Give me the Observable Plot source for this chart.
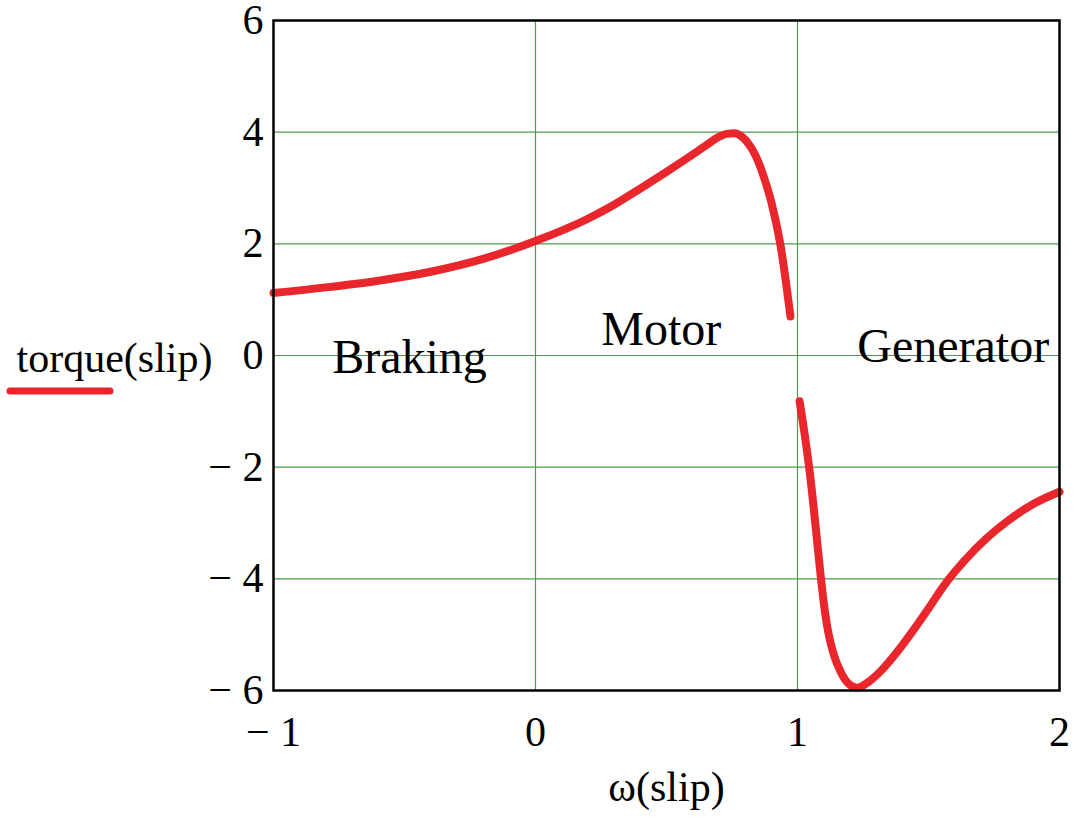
<!DOCTYPE html>
<html>
<head>
<meta charset="utf-8">
<script src="https://cdn.jsdelivr.net/npm/d3@7"></script>
<script src="https://cdn.jsdelivr.net/npm/@observablehq/plot@0.6"></script>
<style>
  html, body { margin: 0; padding: 0; background: #fff; }
  #chart { position: relative; width: 1081px; height: 823px; }
  #chart svg text { font-family: 'Liberation Serif', 'Times New Roman', serif; }
</style>
</head>
<body>
<div id="chart"></div>
<script>
// Motoring / braking branch (omega = 1 - slip)
const omegaA  = [-1, -0.8, -0.6, -0.4, -0.2, 0, 0.2, 0.3, 0.4, 0.5, 0.6, 0.65, 0.69, 0.73, 0.76, 0.79, 0.815, 0.84, 0.87, 0.9, 0.935, 0.973];
const torqueA = [1.12, 1.22, 1.34, 1.50, 1.73, 2.05, 2.45, 2.70, 2.99, 3.29, 3.60, 3.76, 3.89, 3.97, 3.98, 3.91, 3.78, 3.58, 3.22, 2.75, 1.98, 0.70];
// Generator branch
const omegaB  = [1.008, 1.03, 1.05, 1.07, 1.09, 1.105, 1.12, 1.14, 1.165, 1.195, 1.228, 1.27, 1.316, 1.38, 1.445, 1.5, 1.559, 1.64, 1.72, 1.8, 1.9, 2.0];
const torqueB = [-0.82, -1.50, -2.22, -3.10, -4.02, -4.60, -5.02, -5.38, -5.67, -5.88, -5.95, -5.85, -5.66, -5.31, -4.90, -4.53, -4.12, -3.66, -3.28, -2.97, -2.66, -2.44];

const xTicks = [-1, 0, 1, 2];
const yTicks = [-6, -4, -2, 0, 2, 4, 6];
const xGrid = [0, 1];
const yGrid = [-4, -2, 0, 2, 4];

const regionNames = ["Braking", "Motor", "Generator"];
const regionX = [-0.776, 0.251, 1.228];
const regionY = [-0.32, 0.196, -0.125];

const xLabel = "ω(slip)";
const yLabel = "torque(slip)";

const segA = omegaA.map((w, i) => ({w, t: torqueA[i]}));
const segB = omegaB.map((w, i) => ({w, t: torqueB[i]}));
const regions = regionNames.map((name, i) => ({name, x: regionX[i], y: regionY[i]}));

const fmt = d => d < 0 ? "− " + Math.abs(d) : String(d);
const green = "#4f9a52";
const red = "#e8262b";
const serif = "'Liberation Serif', 'Times New Roman', serif";

const plot = Plot.plot({
  width: 1081,
  height: 823,
  marginLeft: 273,
  marginRight: 22,
  marginTop: 20,
  marginBottom: 133,
  style: {fontFamily: serif, fontSize: "42px", color: "black", background: "white", overflow: "visible"},
  x: {domain: [-1, 2]},
  y: {domain: [-6, 6]},
  marks: [
    Plot.gridX(xGrid, {stroke: green, strokeOpacity: 1, strokeWidth: 1.2}),
    Plot.gridY(yGrid, {stroke: green, strokeOpacity: 1, strokeWidth: 1.2}),
    Plot.text(regions, {x: "x", y: "y", text: "name", textAnchor: "start", lineAnchor: "bottom",
      fontSize: 48, fontFamily: serif, fill: "black", ariaLabel: "region-labels"}),
    Plot.line(segA, {x: "w", y: "t", stroke: red, strokeWidth: 8, strokeLinecap: "round", curve: "monotone-x"}),
    Plot.line(segB, {x: "w", y: "t", stroke: red, strokeWidth: 8, strokeLinecap: "round", curve: "monotone-x"}),
    Plot.frame({stroke: "black", strokeWidth: 2.5}),
    Plot.axisX({ticks: xTicks, tickSize: 0, tickPadding: 26, tickFormat: fmt, label: null, fontSize: 42, fontFamily: serif}),
    Plot.axisY({ticks: yTicks, tickSize: 0, tickPadding: 10, tickFormat: fmt, label: null, fontSize: 42, fontFamily: serif}),
    Plot.text([xLabel], {frameAnchor: "bottom", dy: 110, lineAnchor: "bottom", fontSize: 42, fontFamily: serif, fill: "black"}),
    Plot.text([yLabel], {frameAnchor: "left", y: [0], dx: -257, dy: 16, textAnchor: "start", lineAnchor: "bottom", fontSize: 42, fontFamily: serif, fill: "black"})
  ]
});

document.getElementById("chart").appendChild(plot);

// white boxes behind the region labels (as in the original text regions)
d3.select(plot).selectAll('g[aria-label="region-labels"] text').each(function() {
  const b = this.getBBox();
  d3.select(this.parentNode).insert("rect", () => this)
    .attr("x", b.x - 6).attr("y", b.y - 2)
    .attr("width", b.width + 12).attr("height", b.height + 6)
    .attr("fill", "white");
});

// legend swatch under the y label
d3.select(plot).append("line")
  .attr("x1", 10).attr("x2", 110).attr("y1", 391).attr("y2", 391)
  .attr("stroke", red).attr("stroke-width", 7).attr("stroke-linecap", "round");
</script>
</body>
</html>
